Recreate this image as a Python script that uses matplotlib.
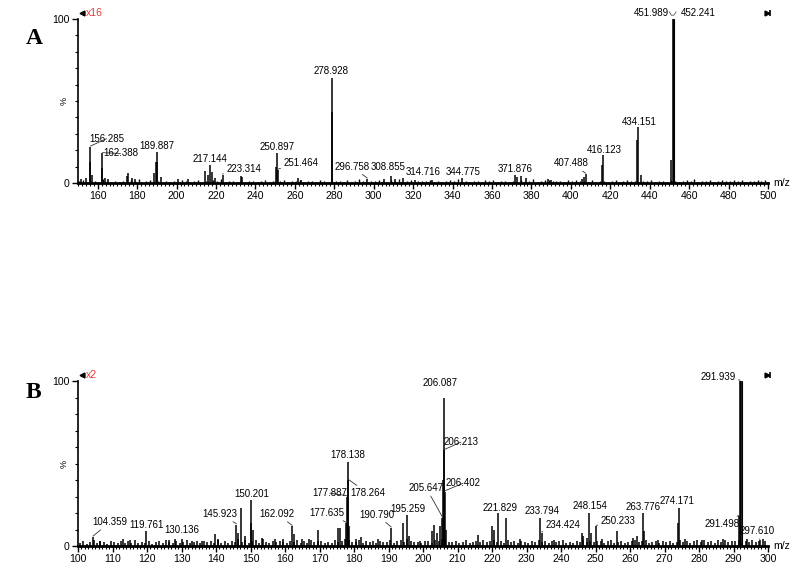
import numpy as np
import matplotlib
matplotlib.use("Agg")
import matplotlib.pyplot as plt
from matplotlib.ticker import MultipleLocator

plt.rcParams['font.family'] = ['Liberation Sans', 'DejaVu Sans']

# ---------------- DATA ----------------
# Panel A (x16 magnification)
peaks_a_mz = [151.5, 154.2, 156.0, 156.285, 157.0, 162.0, 162.388, 163.5, 165.2, 174.8, 175.3,
              177.5, 178.9, 188.5, 189.5, 189.887, 190.3, 192.0, 200.5, 205.8, 214.6, 216.0,
              217.144, 218.0, 219.5, 223.314, 232.5, 233.0, 250.6, 250.897, 251.464, 261.5,
              263.0, 278.7, 278.928, 296.758, 305.0, 308.855, 311.0, 314.716, 321.0, 329.5,
              344.775, 371.876, 372.5, 374.5, 377.0, 388.5, 390.0, 405.5, 406.5, 407.488,
              415.8, 416.123, 433.7, 434.151, 435.5, 451.0, 451.989, 452.241]
peaks_a_int = [2.5, 3.0, 13, 22, 5, 9, 18, 3, 2.5, 4, 6,
               3, 2.5, 6, 13, 19, 13, 3.5, 2.5, 2.5, 7.5, 5,
               11, 7, 3, 5, 4, 3.5, 10, 18, 8, 3,
               2, 43, 64, 2.5, 2.5, 4.5, 2.5, 3, 2, 2,
               3, 5, 3.5, 4, 3, 2.5, 2, 2.5, 3.5, 5.5,
               11, 17, 26, 34, 5, 14, 100, 100]
noise_a_start, noise_a_step = 150.7, 2
noise_a = [1.2, 2.0, 0.8, 1.5, 1.0, 0.7, 2.2, 1.1, 0.6, 1.4, 0.9,
           1.3, 0.7, 1.8, 1.0, 2.3, 0.8, 1.2, 1.6, 0.9, 1.4, 0.6,
           1.1, 0.8, 1.5, 0.7, 1.9, 1.0, 0.6, 1.3, 2.1, 0.9, 1.2,
           0.8, 1.6, 1.0, 2.2, 0.7, 1.1, 1.4, 0.9, 1.8, 0.6, 1.2,
           1.5, 0.8, 1.0, 2.0, 0.7, 1.3, 0.9, 1.1, 1.7, 0.8, 1.4,
           1.0, 1.9, 0.7, 1.2, 1.5, 0.8, 2.1, 1.0, 0.6, 1.3, 1.1,
           1.4, 0.9, 1.8, 0.7, 1.2, 2.3, 1.0, 0.8, 1.5, 1.1, 1.9,
           1.0, 0.7, 1.6, 1.2, 2.4, 0.9, 1.3, 1.8, 0.8, 1.4, 1.0,
           1.2, 2.0, 0.9, 1.5, 0.7, 1.1, 1.8, 1.0, 2.5, 0.8, 1.3,
           0.9, 1.4, 1.1, 0.7, 1.7, 1.0, 2.0, 0.8, 1.2, 1.5, 0.9,
           1.1, 0.8, 1.6, 1.0, 1.3, 2.2, 0.9, 1.4, 1.7, 2.0, 1.5,
           1.0, 1.3, 0.8, 1.6, 1.1, 2.0, 1.4, 1.2, 0.9, 1.7, 0.8,
           1.2, 1.5, 0.9, 1.3, 1.8, 0.7, 1.1, 1.6, 1.0, 1.4, 0.8,
           1.5, 1.0, 1.9, 0.8, 1.2, 1.4, 0.7, 1.6, 1.1, 0.9, 1.3,
           1.8, 1.0, 2.2, 0.8, 1.4, 1.1, 2.0, 0.9, 1.5, 1.8, 1.2,
           1.0, 1.7, 1.3, 2.1, 0.9, 1.5, 1.2, 1.9, 1.0, 1.6]
labels_a = ['156.285', '162.388', '189.887', '217.144', '223.314', '250.897', '251.464',
            '278.928', '296.758', '308.855', '314.716', '344.775', '371.876', '407.488',
            '416.123', '434.151', '451.989', '452.241']
xticks_a = list(range(160, 501, 20))

# Panel B (x2 magnification)
peaks_b_mz = [104.359, 106.5, 113.0, 115.0, 119.761, 126.5, 128.0, 130.136, 133.0, 136.0,
              139.8, 140.5, 145.923, 146.5, 147.2, 148.5, 150.0, 150.201, 150.6, 153.2,
              157.0, 159.5, 162.092, 162.5, 165.0, 167.0, 169.5, 175.3, 175.8, 177.635,
              177.887, 178.138, 178.264, 178.6, 180.5, 182.0, 187.0, 190.790, 194.3, 195.259,
              196.0, 199.0, 202.5, 203.2, 204.2, 205.0, 205.647, 205.9, 206.087, 206.213,
              206.402, 206.7, 216.0, 220.0, 220.5, 221.829, 224.0, 228.0, 233.794, 234.424,
              238.0, 246.0, 246.5, 247.5, 248.154, 248.7, 250.233, 252.0, 256.3, 261.0,
              262.0, 263.776, 264.2, 268.0, 273.8, 274.171, 276.0, 281.0, 287.0, 291.498,
              291.939, 292.4, 294.0, 297.610, 299.0]
peaks_b_int = [5.5, 3, 4, 3.5, 9, 3.5, 4.5, 4, 3, 3,
               7, 4, 13, 8, 23, 6, 14, 28, 10, 5,
               4, 4, 12, 7, 4, 4.5, 10, 11, 11, 14,
               30, 51, 40, 12, 4, 5.5, 4, 11, 14, 19,
               6, 3, 9, 13, 8, 12, 17, 40, 90, 58,
               33, 10, 6.5, 12, 10, 20, 17, 4, 17, 8,
               3.5, 8, 6, 5, 20, 8, 12, 4, 9, 5,
               6, 20, 9, 3.5, 14, 23, 4, 3.5, 4, 18,
               100, 100, 4, 3.5, 3]
noise_b_start, noise_b_step = 100.5, 1
noise_b = [2.0, 3.1, 1.5, 2.6, 3.8, 1.8, 2.9, 2.2, 1.4, 3.0,
           2.4, 1.7, 3.3, 2.1, 2.8, 1.6, 3.5, 2.0, 2.7, 1.9,
           3.2, 1.5, 2.5, 2.9, 1.8, 3.6, 2.3, 2.0, 3.0, 1.7,
           2.6, 3.4, 1.9, 2.2, 3.1, 1.6, 2.8, 2.4, 3.3, 2.0,
           3.7, 2.1, 2.9, 1.8, 3.0, 2.5, 4.0, 2.2, 3.4, 1.9,
           2.8, 3.5, 2.0, 4.2, 2.6, 1.8, 3.1, 2.4, 3.3, 2.7,
           1.9, 3.0, 2.5, 3.8, 2.1, 2.9, 1.7, 3.4, 2.3, 2.8,
           3.3, 2.0, 2.6, 1.8, 3.6, 2.4, 3.1, 4.5, 3.9, 2.7,
           2.2, 3.4, 1.9, 2.8, 2.5, 3.2, 1.6, 3.0, 2.3, 2.7,
           3.5, 2.1, 2.9, 3.8, 2.4, 4.1, 3.0, 2.2, 2.6, 1.8,
           2.9, 3.3, 2.0, 3.7, 2.8, 4.0, 3.5, 2.6, 2.3, 3.1,
           2.0, 2.7, 3.4, 1.8, 2.5, 3.0, 2.2, 3.6, 2.4, 2.9,
           3.8, 2.6, 3.1, 2.0, 3.4, 2.2, 2.8, 1.9, 3.3, 2.5,
           2.1, 3.0, 2.6, 3.5, 2.3, 2.8, 1.7, 3.2, 2.4, 2.9,
           3.4, 2.0, 2.7, 1.9, 3.1, 2.5, 3.6, 2.2, 3.0, 2.6,
           2.8, 3.3, 2.1, 2.9, 3.7, 2.0, 2.5, 3.2, 1.8, 2.7,
           3.0, 3.9, 2.4, 2.8, 3.5, 2.1, 2.6, 3.3, 2.0, 2.9,
           2.5, 3.1, 2.0, 2.7, 3.6, 2.3, 3.0, 1.9, 2.8, 3.4,
           2.2, 3.8, 2.6, 3.0, 2.1, 3.5, 2.4, 3.9, 2.7, 3.2,
           2.9, 3.4, 2.0, 3.1, 2.6, 3.7, 2.3, 3.3, 4.0]
labels_b = ['104.359', '119.761', '130.136', '145.923', '150.201', '162.092', '177.635',
            '177.887', '178.264', '178.138', '190.790', '195.259', '205.647', '206.402',
            '206.213', '206.087', '221.829', '233.794', '234.424', '248.154', '250.233',
            '263.776', '274.171', '291.498', '297.610', '291.939']
xticks_b = list(range(100, 301, 10))

# ---------------- LAYOUT (label text centres in data coords, leader flag) ----------------
layout_a = {
    '156.285': (164.5, 27, True), '162.388': (171.5, 18, True), '189.887': (190, 22.5, False),
    '217.144': (217, 14.5, False), '223.314': (234, 8.5, True), '250.897': (251, 22, False),
    '251.464': (263, 12, True), '278.928': (278.6, 68, False), '296.758': (289, 10, True),
    '308.855': (307.5, 10, False), '314.716': (325, 7, False), '344.775': (345.6, 7, False),
    '371.876': (372, 8.5, False), '407.488': (400, 12, True), '416.123': (416.8, 20, False),
    '434.151': (434.6, 37, False), '451.989': (441.0, 103.5, False), '452.241': (464.8, 103.5, False),
}
layout_b = {
    '104.359': (109.3, 14.5, True), '119.761': (120, 13, False), '130.136': (130, 9.7, False),
    '145.923': (141, 19.4, True), '150.201': (150.4, 31.5, False), '162.092': (157.7, 19.4, True),
    '177.635': (172, 20, True), '177.887': (173, 32, True), '178.264': (184, 32, True),
    '178.138': (178.3, 55, False), '190.790': (186.5, 19, True), '195.259': (195.6, 22.6, False),
    '205.647': (201, 35, True), '206.402': (211.6, 38, True), '206.213': (211, 63, True),
    '206.087': (205, 99, False), '221.829': (222.3, 23, False), '233.794': (234.5, 21, False),
    '234.424': (240.6, 12.7, True), '248.154': (248.4, 24, False), '250.233': (256.5, 15, True),
    '263.776': (263.8, 23.5, False), '274.171': (273.6, 27.5, False), '291.498': (286.7, 13.3, True),
    '297.610': (296.8, 9, True), '291.939': (285.5, 102.5, True),
}

FS_TICK = 7.6
FS_LAB = 7.0

fig = plt.figure(figsize=(8.0, 5.72), dpi=100)
axA = fig.add_axes([78/800, 1-183/572, 690/800, 164/572])
axB = fig.add_axes([78/800, 1-546/572, 690/800, 165/572])


def draw_panel(ax, pmz, pint, nstart, nstep, noise, labels, layout, xlim, xticks, minor,
               mag, letter, letter_y, nlw):
    nmz = nstart + nstep * np.arange(len(noise))
    ax.vlines(nmz, 0, noise, color='black', lw=nlw)
    ax.vlines(pmz, 0, pint, color='black', lw=1.1)
    # the base peak: two close lines with grey fill
    tops = [m for m, v in zip(pmz, pint) if v >= 100]
    if len(tops) == 2:
        ax.fill_between(tops, 0, 100, color='#a0a0a0', lw=0)
        ax.vlines(tops, 0, 100, color='black', lw=0.8)
    ax.set_xlim(*xlim)
    ax.set_ylim(0, 100)
    for s in ['top', 'right']:
        ax.spines[s].set_visible(False)
    ax.spines['left'].set_linewidth(1.2)
    ax.spines['bottom'].set_linewidth(2.0)
    ax.set_xticks(xticks)
    ax.xaxis.set_minor_locator(MultipleLocator(minor))
    ax.set_yticks([0, 100])
    ax.yaxis.set_minor_locator(MultipleLocator(10))
    ax.tick_params(axis='both', which='major', length=4, width=1, labelsize=FS_TICK, pad=2)
    ax.tick_params(axis='both', which='minor', length=2.5, width=0.8)
    ax.text(-0.013, 0.5, '%', transform=ax.transAxes, rotation=90, ha='right', va='center', fontsize=6.5)
    ax.text(1.008, 0.0, 'm/z', transform=ax.transAxes, ha='left', va='center', fontsize=FS_TICK)
    # magnification marker
    ax.plot([0.006], [1.035], marker='<', ms=3.5, color='black', transform=ax.transAxes, clip_on=False)
    ax.text(0.011, 1.035, mag, transform=ax.transAxes, color='#e8393a', fontsize=FS_TICK, va='center', ha='left')
    ax.plot([0.998], [1.035], marker='>', ms=3.5, color='black', transform=ax.transAxes, clip_on=False)
    ax.plot([1.003], [1.035], marker='|', ms=5, mew=1.2, color='black', transform=ax.transAxes, clip_on=False)
    # labels
    lookup = dict(zip(pmz, pint))
    for lab in labels:
        mz = float(lab)
        h = lookup[mz]
        tx, ty, leader = layout[lab]
        if leader:
            ax.annotate(lab, xy=(mz, h + 0.5), xytext=(tx, ty), fontsize=FS_LAB, ha='center', va='center',
                        annotation_clip=False,
                        arrowprops=dict(arrowstyle='-', lw=0.6, color='#333333', shrinkA=0, shrinkB=0))
        else:
            ax.text(tx, ty, lab, fontsize=FS_LAB, ha='center', va='center', clip_on=False)
    fig.text(26/800, letter_y, letter, fontsize=17, fontweight='bold', family='Liberation Serif',
             ha='left', va='center')


draw_panel(axA, peaks_a_mz, peaks_a_int, noise_a_start, noise_a_step, noise_a, labels_a, layout_a,
           (150, 500), xticks_a, 2, 'x16', 'A', 1-38/572, 1.0)
draw_panel(axB, peaks_b_mz, peaks_b_int, noise_b_start, noise_b_step, noise_b, labels_b, layout_b,
           (100, 300), xticks_b, 1, 'x2', 'B', 1-392/572, 1.1)

# small bracket between the two top labels of panel A
axA.plot([450.0, 451.0, 452.2, 453.4], [104.3, 102.3, 102.3, 104.3], color='#555555', lw=0.6, clip_on=False)

fig.savefig('out.png', dpi=100)
